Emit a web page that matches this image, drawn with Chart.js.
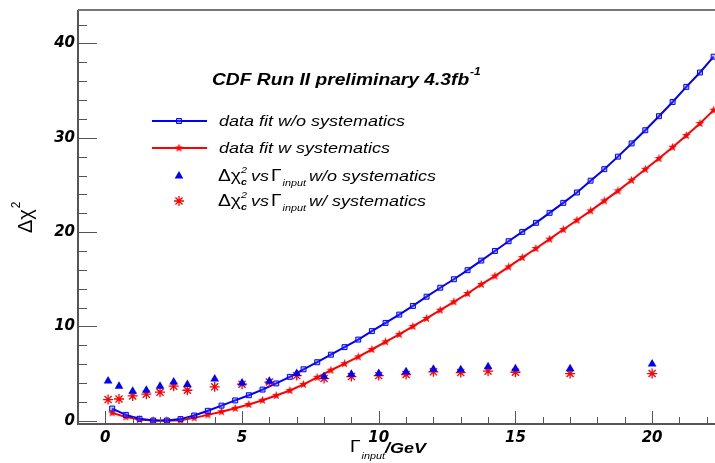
<!DOCTYPE html>
<html>
<head>
<meta charset="utf-8">
<title>Delta chi2 vs Gamma input</title>
<script src="https://cdn.jsdelivr.net/npm/chart.js@4.4.1/dist/chart.umd.min.js"></script>
<style>
  html, body { margin: 0; padding: 0; background: #fff; }
  #wrap { position: relative; width: 715px; height: 463px; }
</style>
</head>
<body>
<div id="wrap"><canvas id="chi2Chart" width="715" height="463"></canvas></div>
<script>
// Fit curves, sampled every 0.5 GeV
const fitGamma = [0.25, 0.75, 1.25, 1.75, 2.25, 2.75, 3.25, 3.75, 4.25, 4.75,
  5.25, 5.75, 6.25, 6.75, 7.25, 7.75, 8.25, 8.75, 9.25, 9.75,
  10.25, 10.75, 11.25, 11.75, 12.25, 12.75, 13.25, 13.75, 14.25, 14.75,
  15.25, 15.75, 16.25, 16.75, 17.25, 17.75, 18.25, 18.75, 19.25, 19.75,
  20.25, 20.75, 21.25, 21.75, 22.25];
const fitNoSyst = [1.29, 0.62, 0.2, 0.02, 0.02, 0.17, 0.55, 1.05, 1.6, 2.15,
  2.7, 3.3, 3.95, 4.65, 5.45, 6.2, 7.0, 7.8, 8.6, 9.5,
  10.37, 11.25, 12.17, 13.15, 14.1, 15.0, 15.96, 16.98, 18.0, 19.03,
  20.02, 20.98, 22.04, 23.1, 24.2, 25.45, 26.67, 28.0, 29.4, 30.8,
  32.29, 33.8, 35.4, 36.92, 38.6];
const fitSyst = [0.83, 0.4, 0.13, 0.02, 0.0, 0.06, 0.3, 0.62, 0.95, 1.32,
  1.72, 2.17, 2.67, 3.2, 3.85, 4.6, 5.35, 6.05, 6.77, 7.55,
  8.36, 9.15, 10.0, 10.85, 11.72, 12.6, 13.49, 14.45, 15.34, 16.31,
  17.3, 18.26, 19.25, 20.27, 21.26, 22.25, 23.31, 24.37, 25.5, 26.66,
  27.8, 29.0, 30.24, 31.52, 32.93];

// Delta chi2_c scan points
const scanGamma = [0.1, 0.5, 1, 1.5, 2, 2.5, 3, 4, 5, 6, 7, 8, 9, 10, 11, 12, 13, 14, 15, 17, 20];
const scanNoSyst = [4.2, 3.66, 3.13, 3.23, 3.66, 4.1, 3.84, 4.43, 4.0, 4.19, 5.0, 4.7, 4.93, 5.0,
  5.18, 5.46, 5.39, 5.71, 5.5, 5.5, 6.0];
const scanSyst = [2.24, 2.3, 2.63, 2.81, 3.02, 3.66, 3.23, 3.59, 3.87, 4.1, 4.78, 4.47, 4.68, 4.78,
  4.9, 5.18, 5.1, 5.25, 5.14, 5.0, 5.0];

// Axis ticks
const xTicks = [0, 1, 2, 3, 4, 5, 6, 7, 8, 9, 10, 11, 12, 13, 14, 15, 16, 17, 18, 19, 20, 21, 22];
const xLabels = [0, 5, 10, 15, 20];
const yTicks = [0, 2, 4, 6, 8, 10, 12, 14, 16, 18, 20, 22, 24, 26, 28, 30, 32, 34, 36, 38, 40, 42];
const yLabels = [0, 10, 20, 30, 40];

const SANS = '"Liberation Sans", Arial, Helvetica, sans-serif';
const BLUE = '#0000ff';
const RED = '#ff0000';
const TEXT_SX = 1.2; // the ROOT canvas text is a bit wide

// filled five point star used as marker on the red fit
function makeStar(size, color) {
  const c = document.createElement('canvas');
  c.width = size; c.height = size;
  const g = c.getContext('2d');
  const cx = size / 2, cy = size / 2, ro = size / 2, ri = ro * 0.42;
  g.beginPath();
  for (let i = 0; i < 10; i++) {
    const r = i % 2 ? ri : ro;
    const a = -Math.PI / 2 + i * Math.PI / 5;
    g.lineTo(cx + r * Math.cos(a), cy + r * Math.sin(a));
  }
  g.closePath();
  g.fillStyle = color;
  g.fill();
  return c;
}
const starImg = makeStar(9, RED);

function pts(xs, ys) {
  return xs.map((x, i) => ({ x: x, y: ys[i] }));
}

// draw a row of text pieces; stacked pieces don't advance the pen
function drawRuns(ctx, x, y, runs, sx = TEXT_SX) {
  let stackW = 0;
  runs.forEach(r => {
    ctx.font = r.font;
    ctx.save();
    ctx.translate(x, y + (r.dy || 0));
    ctx.scale(sx, 1);
    ctx.fillText(r.t, 0, 0);
    ctx.restore();
    const w = ctx.measureText(r.t).width * sx;
    if (r.stack) {
      stackW = w;
    } else {
      x += Math.max(w, stackW) + (r.gap || 0);
      stackW = 0;
    }
  });
  return x;
}

const rootFrame = {
  id: 'rootFrame',
  afterDatasetsDraw(chart) {
    const ctx = chart.ctx;
    const a = chart.chartArea;
    const xs = chart.scales.x, ys = chart.scales.y;
    ctx.save();
    ctx.strokeStyle = '#555';
    ctx.lineWidth = 1;
    // tick marks pointing into the frame
    ctx.beginPath();
    xTicks.forEach(v => {
      const px = Math.round(xs.getPixelForValue(v)) + 0.5;
      const len = xLabels.includes(v) ? 13 : 7;
      ctx.moveTo(px, a.bottom);
      ctx.lineTo(px, a.bottom - len);
    });
    yTicks.forEach(v => {
      const py = Math.round(ys.getPixelForValue(v)) + 0.5;
      const len = yLabels.includes(v) ? 19 : 9;
      ctx.moveTo(a.left, py);
      ctx.lineTo(a.left + len, py);
    });
    ctx.stroke();
    // frame: the right edge runs off the canvas
    ctx.lineWidth = 2;
    ctx.strokeStyle = '#5a5555';
    ctx.beginPath();
    ctx.moveTo(a.left, a.top);
    ctx.lineTo(a.left, a.bottom);
    ctx.lineTo(a.right + 2, a.bottom);
    ctx.stroke();
    ctx.strokeStyle = '#7a7676';
    ctx.beginPath();
    ctx.moveTo(a.left, a.top);
    ctx.lineTo(a.right + 2, a.top);
    ctx.stroke();
    ctx.restore();
  },
  afterDraw(chart) {
    const ctx = chart.ctx;
    const H = Chart.helpers;
    ctx.save();
    ctx.fillStyle = '#000';
    ctx.textBaseline = 'alphabetic';
    ctx.textAlign = 'left';

    // header
    let x = drawRuns(ctx, 212, 85, [{ t: 'CDF Run II preliminary 4.3fb', font: 'italic bold 16px ' + SANS }]);
    drawRuns(ctx, x + 1, 75, [{ t: '-1', font: 'italic bold 10px ' + SANS }]);

    // legend
    const it = 'italic 15px ' + SANS;
    const gr = '16px ' + SANS;
    const sm = 'italic 9px ' + SANS;
    ctx.lineWidth = 2;
    ctx.strokeStyle = BLUE;
    ctx.beginPath(); ctx.moveTo(152, 121); ctx.lineTo(207, 121); ctx.stroke();
    ctx.fillStyle = 'rgba(80,80,255,0.35)';
    ctx.lineWidth = 1;
    H.drawPoint(ctx, { pointStyle: 'rect', radius: 3.5, borderWidth: 1, rotation: 0 }, 179, 121);
    ctx.lineWidth = 2;
    ctx.strokeStyle = RED;
    ctx.beginPath(); ctx.moveTo(152, 148); ctx.lineTo(207, 148); ctx.stroke();
    H.drawPoint(ctx, { pointStyle: starImg, radius: 4, rotation: 0 }, 179, 148);
    ctx.fillStyle = BLUE;
    H.drawPoint(ctx, { pointStyle: 'triangle', radius: 5, borderWidth: 0, rotation: 0 }, 179, 176);
    ctx.strokeStyle = RED;
    ctx.lineWidth = 1.3;
    H.drawPoint(ctx, { pointStyle: 'star', radius: 5, borderWidth: 1.3, rotation: 0 }, 179, 201);

    ctx.fillStyle = '#000';
    drawRuns(ctx, 219, 126, [{ t: 'data fit w/o systematics', font: it }]);
    drawRuns(ctx, 219, 153, [{ t: 'data fit w systematics', font: it }]);
    const greekRow = (y, tail) => drawRuns(ctx, 218, y, [
      { t: '\u0394\u03c7', font: gr },
      { t: 'c', font: 'italic bold 9px ' + SANS, dy: 4, stack: true },
      { t: '2', font: sm, dy: -8, gap: 4 },
      { t: 'vs', font: it, gap: 2 },
      { t: '\u0393', font: gr, gap: 1 },
      { t: 'input', font: sm, dy: 5, gap: 3 },
      { t: tail, font: it }
    ]);
    greekRow(181, 'w/o systematics');
    greekRow(206, 'w/ systematics');

    // x axis title
    x = drawRuns(ctx, 350, 452, [{ t: '\u0393', font: '16px ' + SANS }]);
    x = drawRuns(ctx, x + 1, 459, [{ t: 'input', font: 'italic 9px ' + SANS }]);
    drawRuns(ctx, x, 453, [{ t: '/GeV', font: 'italic bold 15px ' + SANS }]);

    // y axis title
    ctx.translate(32, 233);
    ctx.rotate(-Math.PI / 2);
    x = drawRuns(ctx, 0, 0, [{ t: '\u0394\u03c7', font: '20px ' + SANS }], 1);
    drawRuns(ctx, x + 1, -12, [{ t: '2', font: '12px ' + SANS }], 1);
    ctx.restore();
  }
};

const tickFont = { family: '"DejaVu Sans", ' + SANS, size: 15, weight: 'bold', style: 'italic' };

new Chart(document.getElementById('chi2Chart'), {
  type: 'scatter',
  data: {
    datasets: [
      {
        label: 'scan w/o systematics',
        data: pts(scanGamma, scanNoSyst),
        pointStyle: 'triangle',
        pointRadius: 5,
        backgroundColor: BLUE,
        borderColor: BLUE,
        borderWidth: 0,
        order: 0
      },
      {
        label: 'scan w/ systematics',
        data: pts(scanGamma, scanSyst),
        pointStyle: 'star',
        pointRadius: 5,
        borderColor: RED,
        backgroundColor: RED,
        borderWidth: 1.3,
        order: 1
      },
      {
        label: 'data fit w/o systematics',
        data: pts(fitGamma, fitNoSyst),
        showLine: true,
        borderColor: BLUE,
        borderWidth: 2,
        pointStyle: 'rect',
        pointRadius: 3.5,
        pointBorderWidth: 1,
        pointBorderColor: BLUE,
        pointBackgroundColor: 'rgba(80,80,255,0.35)',
        order: 2
      },
      {
        label: 'data fit w systematics',
        data: pts(fitGamma, fitSyst),
        showLine: true,
        borderColor: RED,
        borderWidth: 2,
        pointStyle: starImg,
        pointRadius: 4,
        order: 3
      }
    ]
  },
  options: {
    responsive: false,
    animation: false,
    events: [],
    layout: { autoPadding: false, padding: { top: 10, right: 0, left: 0, bottom: 0 } },
    plugins: { legend: { display: false }, tooltip: { enabled: false } },
    scales: {
      x: {
        type: 'linear',
        min: -1,
        max: 22.3,
        afterBuildTicks: s => { s.ticks = xTicks.map(v => ({ value: v })); },
        afterFit: s => { s.height = 39; s.paddingLeft = 0; s.paddingRight = 0; },
        ticks: {
          callback: v => xLabels.includes(v) ? String(v) : '',
          autoSkip: false,
          maxRotation: 0,
          padding: 5,
          color: '#000',
          font: tickFont
        },
        grid: { display: false, drawTicks: false },
        border: { display: false }
      },
      y: {
        type: 'linear',
        min: -0.35,
        max: 43.55,
        afterBuildTicks: s => { s.ticks = yTicks.map(v => ({ value: v })); },
        afterFit: s => { s.width = 78; s.paddingTop = 0; s.paddingBottom = 0; },
        ticks: {
          callback: v => yLabels.includes(v) ? String(v) : '',
          autoSkip: false,
          padding: 3,
          color: '#000',
          font: tickFont
        },
        grid: { display: false, drawTicks: false },
        border: { display: false }
      }
    }
  },
  plugins: [rootFrame]
});
</script>
</body>
</html>
